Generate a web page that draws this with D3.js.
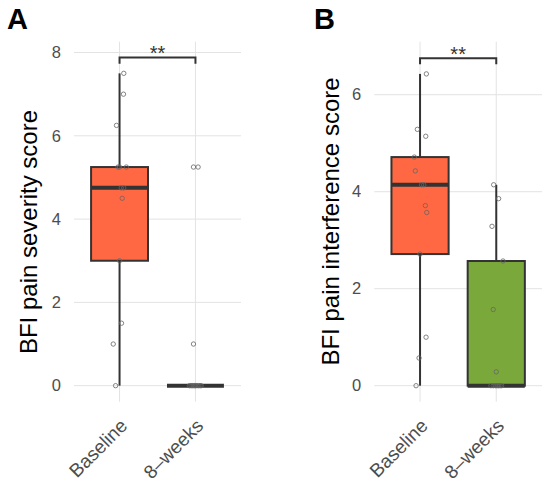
<!DOCTYPE html>
<html>
<head>
<meta charset="utf-8">
<script src="https://cdn.jsdelivr.net/npm/d3@7"></script>
<style>
  body { margin: 0; background: #fff; }
  svg { display: block; font-family: "Liberation Sans", Arial, Helvetica, sans-serif; }
</style>
</head>
<body>
<div id="chart"></div>
<script>
// Skupini na osi x
const groups = ["Baseline", "8–weeks"];

// A: BFI pain severity (vrednosti in zamik točk v enotah kategorij)
const severityBaseline = [7.5, 7.0, 6.25, 5.25, 5.25, 5.25, 4.75, 4.75, 4.5, 3.0, 1.5, 1.0, 0];
const severityBaselineJitter = [0.056, 0.052, -0.04, -0.02, 0.09, 0.0, 0.022, 0.055, 0.035, 0.0, 0.026, -0.083, -0.052];
const severityWeeks = [5.25, 5.25, 1.0, 0, 0, 0, 0, 0, 0, 0, 0, 0, 0];
const severityWeeksJitter = [-0.026, 0.035, -0.026, -0.08, -0.06, -0.03, -0.01, 0.0, 0.02, 0.04, 0.06, 0.075, -0.045];
const severityTicks = [0, 2, 4, 6, 8];

// B: BFI pain interference
const interfBaseline = [6.429, 5.286, 5.143, 4.714, 4.429, 4.143, 4.143, 3.714, 3.571, 2.714, 1.0, 0.571, 0];
const interfBaselineJitter = [0.083, -0.035, 0.075, -0.075, -0.062, 0.048, 0.02, 0.07, 0.088, 0.0, 0.079, -0.013, -0.052];
const interfWeeks = [4.143, 3.857, 3.286, 2.571, 1.571, 0.286, 0, 0, 0, 0, 0, 0, 0];
const interfWeeksJitter = [-0.034, 0.031, -0.056, 0.088, -0.04, 0.0, -0.07, -0.04, -0.01, 0.01, 0.03, 0.05, 0.07];
const interfTicks = [0, 2, 4, 6];

const fills = ["#FF6842", "#7BA83B"];

const width = 550;
const height = 489;

const svg = d3.select("#chart")
    .append("svg")
    .attr("width", width)
    .attr("height", height);

// Izračun statistike škatle (R tip 7, kot ggplot)
function boxStats(values) {
    const s = values.slice().sort(d3.ascending);
    const q1 = d3.quantile(s, 0.25);
    const med = d3.quantile(s, 0.5);
    const q3 = d3.quantile(s, 0.75);
    const iqr = q3 - q1;
    const lo = d3.min(s.filter(v => v >= q1 - 1.5 * iqr));
    const hi = d3.max(s.filter(v => v <= q3 + 1.5 * iqr));
    return { q1, med, q3, lo, hi };
}

function drawPanel(opt) {
    const g = svg.append("g");

    const x = d3.scalePoint()
        .domain(groups)
        .range([opt.left, opt.right])
        .padding(0.6);

    const y = d3.scaleLinear()
        .domain(opt.yDomain)
        .range([401.7, 41.7]);

    // Mreža
    g.selectAll(".hgrid")
        .data(opt.ticks)
        .enter()
        .append("line")
        .attr("x1", opt.left).attr("x2", opt.right)
        .attr("y1", d => y(d)).attr("y2", d => y(d))
        .attr("stroke", "#e3e3e3").attr("stroke-width", 1);

    g.selectAll(".vgrid")
        .data(groups)
        .enter()
        .append("line")
        .attr("x1", d => x(d)).attr("x2", d => x(d))
        .attr("y1", 41.7).attr("y2", 401.7)
        .attr("stroke", "#e3e3e3").attr("stroke-width", 1);

    // Os y
    const yAxis = g.append("g")
        .attr("transform", `translate(${opt.left},0)`)
        .call(d3.axisLeft(y).tickValues(opt.ticks).tickSize(0).tickPadding(13));
    yAxis.select(".domain").remove();
    yAxis.selectAll("text")
        .attr("font-size", 16.5)
        .attr("fill", "#4d4d4d")
        .attr("font-family", "Liberation Sans, Arial, sans-serif");

    // Os x, zasukane oznake
    g.selectAll(".xlab")
        .data(groups)
        .enter()
        .append("text")
        .attr("transform", d => `translate(${x(d) + 9},${427}) rotate(-45)`)
        .attr("text-anchor", "end")
        .attr("font-size", 19)
        .attr("fill", "#4d4d4d")
        .text(d => d);

    // Naslov osi y
    g.append("text")
        .attr("transform", `translate(${opt.titleX},${opt.titleY}) rotate(-90)`)
        .attr("text-anchor", "middle")
        .attr("font-size", 24)
        .attr("fill", "#000")
        .text(opt.title);

    // Oznaka panela
    g.append("text")
        .attr("x", opt.tagX)
        .attr("y", 29)
        .attr("font-size", 29)
        .attr("font-weight", "bold")
        .attr("fill", "#000")
        .text(opt.tag);

    const bw = x.step() * 0.75;

    opt.series.forEach((vals, i) => {
        const st = boxStats(vals);
        const cx = x(groups[i]);

        // Brki
        g.append("line")
            .attr("x1", cx).attr("x2", cx)
            .attr("y1", y(st.q3)).attr("y2", y(st.hi))
            .attr("stroke", "#333").attr("stroke-width", 2);
        g.append("line")
            .attr("x1", cx).attr("x2", cx)
            .attr("y1", y(st.q1)).attr("y2", y(st.lo))
            .attr("stroke", "#333").attr("stroke-width", 2);

        // Škatla
        g.append("rect")
            .attr("x", cx - bw / 2)
            .attr("y", y(st.q3))
            .attr("width", bw)
            .attr("height", Math.max(0, y(st.q1) - y(st.q3)))
            .attr("fill", fills[i])
            .attr("stroke", "#333")
            .attr("stroke-width", 2);

        // Mediana
        g.append("line")
            .attr("x1", cx - bw / 2).attr("x2", cx + bw / 2)
            .attr("y1", y(st.med)).attr("y2", y(st.med))
            .attr("stroke", "#333").attr("stroke-width", 4);
    });

    // Točke
    opt.series.forEach((vals, i) => {
        g.selectAll(".pt" + i)
            .data(vals.map((v, j) => ({ v, j: opt.jitter[i][j] })))
            .enter()
            .append("circle")
            .attr("cx", d => x(groups[i]) + d.j * x.step())
            .attr("cy", d => y(d.v))
            .attr("r", 2.2)
            .attr("fill", "none")
            .attr("stroke", "#666")
            .attr("stroke-width", 0.8);
    });

    // Oklepaj za statistično značilnost
    const x1 = x(groups[0]);
    const x2 = x(groups[1]);
    g.append("path")
        .attr("d", `M${x1},${y(opt.bracket[1])}V${y(opt.bracket[0])}H${x2}V${y(opt.bracket[1])}`)
        .attr("fill", "none")
        .attr("stroke", "#333")
        .attr("stroke-width", 2);
    g.append("text")
        .attr("x", (x1 + x2) / 2)
        .attr("y", y(opt.bracket[0]) + 2.6)
        .attr("text-anchor", "middle")
        .attr("font-size", 20)
        .attr("fill", "#333")
        .text("**");
}

drawPanel({
    left: 74, right: 241,
    yDomain: [-0.385, 8.26],
    ticks: severityTicks,
    series: [severityBaseline, severityWeeks],
    jitter: [severityBaselineJitter, severityWeeksJitter],
    bracket: [7.88, 7.73],
    title: "BFI pain severity score",
    titleX: 37, titleY: 232,
    tag: "A", tagX: 7
});

drawPanel({
    left: 374.3, right: 542,
    yDomain: [-0.33, 7.093],
    ticks: interfTicks,
    series: [interfBaseline, interfWeeks],
    jitter: [interfBaselineJitter, interfWeeksJitter],
    bracket: [6.75, 6.63],
    title: "BFI pain interference score",
    titleX: 339, titleY: 221.5,
    tag: "B", tagX: 314
});
</script>
</body>
</html>
